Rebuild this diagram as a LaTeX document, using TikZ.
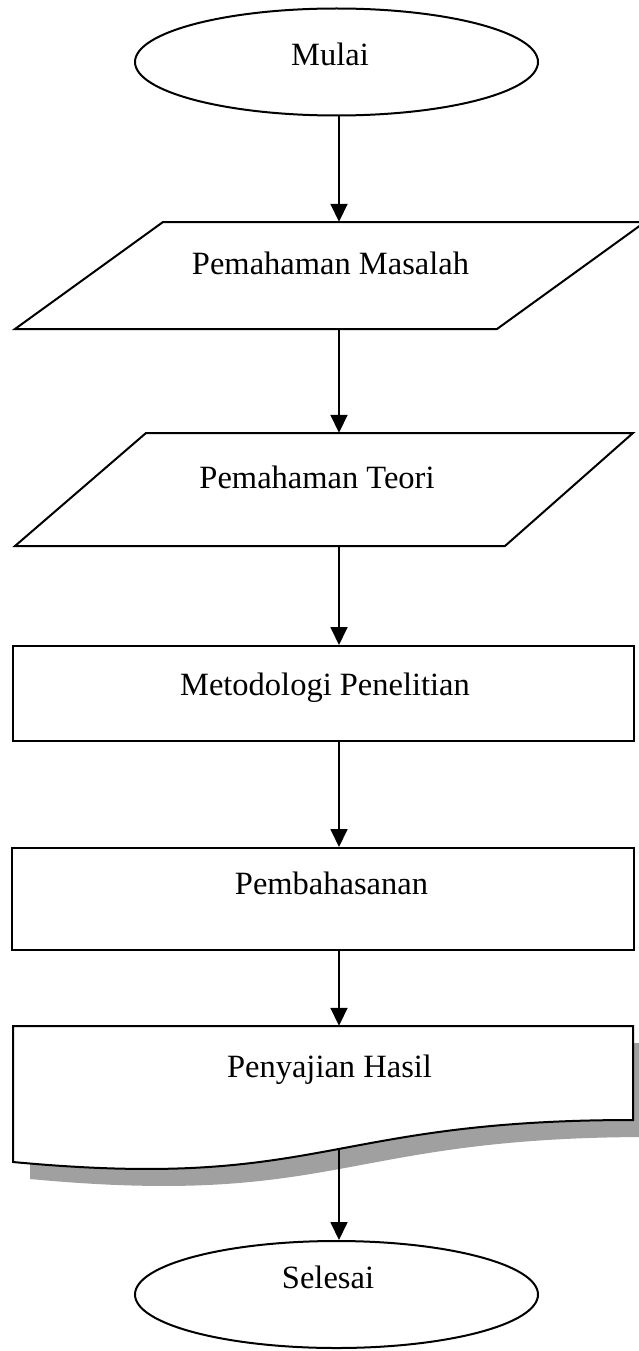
\documentclass[tikz,border=0pt]{standalone}
\usepackage{fontspec}
\setmainfont{Liberation Serif}
\usetikzlibrary{shapes.geometric,arrows.meta,calc}
\definecolor{shadowgray}{RGB}{160,160,160}
\begin{document}
\begin{tikzpicture}[x=1pt,y=-1pt,
  outline/.style={line width=2pt, draw=black, line join=miter},
  flow/.style={line width=1.8pt, draw=black, -{Triangle[width=17pt,length=18pt]}},
  lbl/.style={font=\fontsize{32.5}{38}\selectfont, anchor=base, inner sep=0},
  term/.style={ellipse, draw=black, line width=2pt, fill=white, inner sep=0, minimum width=403pt, minimum height=107pt},
  procbox/.style={rectangle, draw=black, line width=2pt, inner sep=0},
  area/.style={rectangle, draw=none, inner sep=0},
]
\useasboundingbox (0,0) rectangle (639,1351);
\coordinate (ax) at (339,0);

% start
\node[term] (start) at (336.5,62) {};
\node[lbl] (tstart) at (330,66) {Mulai};

% parallelogram 1
\node[area, minimum width=630pt, minimum height=107pt] (p1) at (330,275.5) {};
\draw[outline] (163,222) -- (645,222) -- (497,329) -- (15,329) -- cycle;
\node[lbl] (tp1) at (330.5,274) {Pemahaman Masalah};

% parallelogram 2
\node[area, minimum width=618pt, minimum height=113pt] (p2) at (324,489.5) {};
\draw[outline] (146,433) -- (633,433) -- (505,546) -- (15,546) -- cycle;
\node[lbl] (tp2) at (317,488) {Pemahaman Teori};

% rectangle 1
\node[procbox, minimum width=621pt, minimum height=95pt] (r1) at (323.5,693.5) {};
\node[lbl] (tr1) at (325,695) {Metodologi Penelitian};

% rectangle 2
\node[procbox, minimum width=622pt, minimum height=102pt] (r2) at (323,899) {};
\node[lbl] (tr2) at (331.5,894) {Pembahasanan};

% document shape with shadow
\node[area, minimum width=620pt, minimum height=94pt] (doc) at (323,1073) {};
\fill[shadowgray] (30,1043) -- (650,1043) -- (650,1137)
  .. controls (340,1137) and (340,1208) .. (30,1179) -- cycle;
\draw[outline, fill=white] (13,1026) -- (633,1026) -- (633,1120)
  .. controls (323,1120) and (323,1191) .. (13,1162) -- cycle;
\node[lbl] (td) at (329.5,1077) {Penyajian Hasil};
\coordinate (docbottom) at (339,1149);

% end
\node[term] (end) at (336.5,1294.5) {};
\node[lbl] (tend) at (328,1288) {Selesai};

% connectors
\draw[flow] (start.south -| ax) -- (p1.north -| ax);
\draw[flow] (p1.south -| ax) -- (p2.north -| ax);
\draw[flow] (p2.south -| ax) -- (r1.north -| ax);
\draw[flow] (r1.south -| ax) -- (r2.north -| ax);
\draw[flow] (r2.south -| ax) -- (doc.north -| ax);
\draw[flow] (docbottom) -- (end.north -| ax);
\end{tikzpicture}
\end{document}
